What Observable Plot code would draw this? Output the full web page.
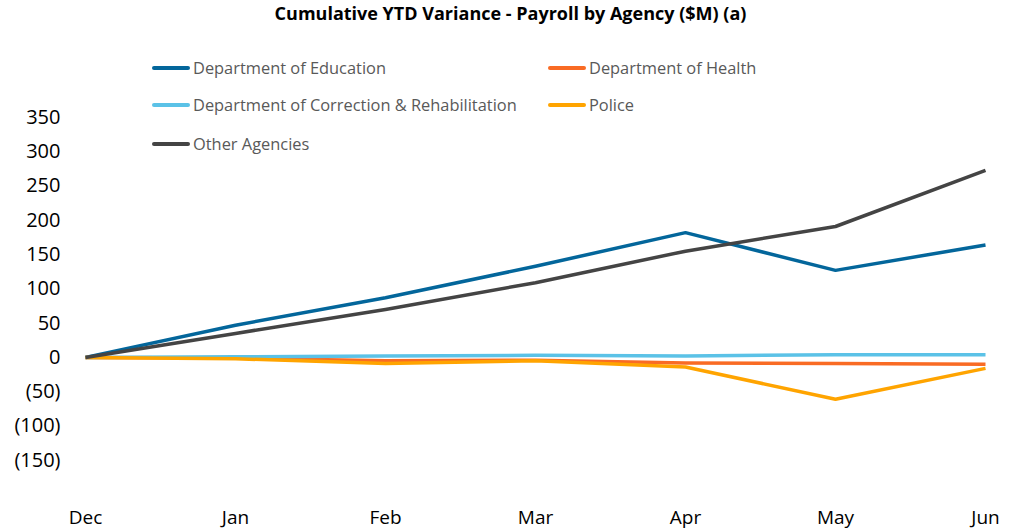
<!DOCTYPE html>
<html>
<head>
<meta charset="utf-8">
<script src="https://cdn.jsdelivr.net/npm/d3@7"></script>
<script src="https://cdn.jsdelivr.net/npm/@observablehq/plot@0.6"></script>
<style>
  html, body { margin: 0; padding: 0; background: #fff; }
  #wrap { position: relative; width: 1021px; height: 529px; font-family: "Open Sans", sans-serif; }
  #title { position: absolute; top: 1px; left: 0; width: 1021px; text-align: center; font-weight: bold; font-size: 18px; color: #000; }
  .leg { position: absolute; display: flex; align-items: center; font-size: 16.4px; color: #595959; white-space: nowrap; }
  .leg .sw { width: 38px; height: 4px; border-radius: 2px; margin-right: 3px; }
  #chart { position: absolute; left: 0; top: 0; }
</style>
</head>
<body>
<div id="wrap">
  <div id="chart"></div>
  <div id="title">Cumulative YTD Variance - Payroll by Agency ($M) (a)</div>
  <div id="legend"></div>
</div>
<script>
const months = ["Dec", "Jan", "Feb", "Mar", "Apr", "May", "Jun"];
const seriesNames = ["Department of Education", "Department of Health", "Department of Correction & Rehabilitation", "Police", "Other Agencies"];
const seriesColors = ["#03669B", "#F96B24", "#5BC2E7", "#FFA400", "#444444"];
const education = [0, 47, 87, 133, 182, 127, 164];
const health = [0, -1, -5, -4, -8, -9, -10];
const correction = [0, 1, 2, 3, 2, 4, 4];
const police = [0, -2, -9, -5, -14, -61, -16];
const other = [0, 35, 70, 109, 155, 191, 273];
const yTicks = [-150, -100, -50, 0, 50, 100, 150, 200, 250, 300, 350];

const seriesValues = [education, health, correction, police, other];
const rows = [];
seriesNames.forEach((name, i) => {
  months.forEach((m, j) => rows.push({ series: name, month: m, value: seriesValues[i][j] }));
});

const fmt = v => v < 0 ? `(${Math.abs(v)})` : `${v}`;

const chart = Plot.plot({
  width: 1021,
  height: 529,
  marginLeft: 85,
  marginRight: 36,
  marginTop: 117,
  marginBottom: 35,
  style: { fontFamily: "Open Sans, sans-serif", background: "transparent" },
  x: { type: "point", domain: months, padding: 0 },
  y: { domain: [-200, 350] },
  color: { domain: seriesNames, range: seriesColors },
  marks: [
    Plot.axisY({ ticks: yTicks, tickFormat: fmt, tickSize: 0, tickPadding: 25, fontSize: 20, color: "#000", label: null }),
    Plot.axisX({ tickSize: 0, tickPadding: 16, fontSize: 19, color: "#000", label: null }),
    Plot.line(rows, { x: "month", y: "value", z: "series", stroke: "series", strokeWidth: 3.5, strokeLinejoin: "round", strokeLinecap: "butt" })
  ]
});
document.getElementById("chart").appendChild(chart);

// Legend (positioned over the plot, as in the reference)
const legPos = [[152, 68], [548, 68], [152, 105], [548, 105], [152, 144]];
const leg = document.getElementById("legend");
seriesNames.forEach((name, i) => {
  const d = document.createElement("div");
  d.className = "leg";
  d.style.left = legPos[i][0] + "px";
  d.style.top = (legPos[i][1] - 12) + "px";
  d.innerHTML = `<span class="sw" style="background:${seriesColors[i]}"></span><span>${name.replace("&", "&amp;")}</span>`;
  leg.appendChild(d);
});
</script>
</body>
</html>
